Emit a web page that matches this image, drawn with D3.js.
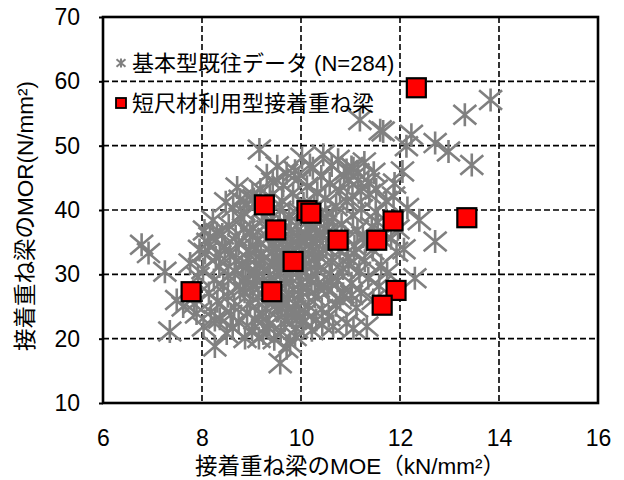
<!DOCTYPE html>
<html>
<head>
<meta charset="utf-8">
<script src="https://cdn.jsdelivr.net/npm/d3@7"></script>
<style>
  html, body { margin: 0; padding: 0; background: #fff; }
  svg { display: block; }
  text { font-family: "Liberation Sans", Arial, "Noto Sans CJK JP", sans-serif; fill: #000; }
</style>
</head>
<body>
<svg id="chart" width="624" height="480"></svg>
<script>
// MOE (kN/mm²) and MOR (N/mm²) for the existing basic-type beams
const baseBeams = [
  [6.78,34.6],[6.92,33.3],[7.25,30.4],[7.49,26.0],[7.62,25.0],[7.35,21.1],[7.89,23.9],[7.76,31.7],
  [8.16,35.8],[8.30,36.4],[8.06,33.3],[8.36,33.0],[8.77,41.6],[8.90,41.0],[9.31,45.4],[9.71,45.7],
  [8.26,22.9],[8.03,21.9],[9.16,49.4],[8.26,18.8],[8.50,20.8],[8.87,20.1],[9.24,20.8],[9.58,16.2],
  [9.71,18.5],[9.78,19.3],[10.65,21.9],[10.92,22.4],[11.06,21.6],[11.33,21.9],[10.85,27.0],[11.02,26.8],
  [11.46,26.0],[10.05,22.6],[13.83,57.1],[13.31,54.8],[11.19,54.0],[11.60,52.4],[11.66,52.2],[12.23,51.7],
  [12.13,49.9],[12.71,50.4],[12.98,49.1],[13.45,47.0],[12.05,46.0],[11.02,46.7],[11.87,42.1],[12.39,38.4],
  [12.71,35.1],[11.93,33.5],[12.30,29.4],[10.18,47.0],[11.06,46.5],
  [9.52,46.8],[9.88,46.1],[10.24,46.5],[10.41,45.2],[10.62,46.9],[9.43,44.3],[9.95,44.9],[10.12,43.6],
  [10.58,44.1],[10.87,45.3],[11.15,44.6],[9.18,43.2],[9.64,43.8],[10.33,42.7],[10.79,43.0],[11.04,42.2],
  [8.71,43.5],[9.02,42.4],
  [8.48,41.2],[8.63,40.3],[9.05,41.7],[9.37,42.1],[9.62,41.4],[9.84,42.6],[10.05,41.0],[10.27,40.4],
  [10.49,41.8],[10.71,40.6],[10.93,41.3],[11.22,40.1],[11.38,42.5],[8.85,39.6],[9.21,40.2],[9.57,39.9],
  [10.38,39.3],[10.64,38.8],[11.05,39.2],[11.51,39.7],[11.72,41.4],
  [8.22,38.4],[8.54,37.6],[8.79,38.7],[9.03,37.2],[9.28,38.9],[9.66,38.1],[9.91,37.5],[10.15,38.3],
  [10.47,37.1],[10.82,37.8],[11.14,36.9],[11.43,37.4],[8.05,36.8],[8.41,36.2],[8.68,35.9],[8.97,36.6],
  [9.35,35.7],[9.59,36.4],[9.83,35.4],[10.09,36.1],[10.31,35.5],[10.56,36.7],[10.89,35.8],[11.25,35.9],
  [11.68,36.3],
  [8.12,34.9],[8.46,34.3],[8.74,34.8],[9.09,34.1],[9.44,34.6],[9.72,33.9],[9.97,34.5],[10.24,33.7],
  [10.51,34.2],[10.78,33.6],[11.08,34.4],[11.45,33.8],[7.95,33.8],[8.28,32.6],[8.57,33.2],[8.92,32.5],
  [9.19,33.1],[9.51,32.4],[9.77,33.3],[10.04,32.2],[10.36,32.8],[10.62,31.9],[10.95,32.7],[11.29,32.1],
  [11.62,31.4],
  [8.02,30.8],[8.35,31.2],[8.66,30.5],[8.94,31.4],[9.26,30.7],[9.55,31.1],[9.81,30.3],[10.09,31.3],
  [10.33,30.6],[10.58,30.1],[10.85,30.9],[11.18,30.4],[7.92,29.6],[8.24,29.1],[8.53,29.8],[8.83,28.9],
  [9.11,29.5],[9.39,28.6],[9.68,29.3],[9.95,28.4],[10.21,29.2],[10.47,28.3],[10.74,29.0],[11.02,28.6],
  [11.36,29.4],[8.43,28.2],[8.77,27.6],[9.03,28.1],[9.58,27.9],
  [8.14,27.1],[8.52,26.6],[8.86,27.3],[9.14,26.4],[9.47,26.9],[9.75,26.2],[10.02,27.2],[10.28,26.5],
  [10.55,27.4],[10.79,26.1],[11.21,27.1],[7.84,25.4],[8.31,25.8],[8.65,24.9],[8.97,25.6],[9.29,24.7],
  [9.61,25.3],[9.88,24.5],[10.15,25.1],[10.42,24.6],[10.71,25.2],[11.12,24.8],[8.18,24.2],[8.58,23.7],
  [8.91,24.0],[9.22,23.5],[9.53,24.3],[9.82,23.3],
  [8.36,23.1],[8.74,22.6],[9.07,23.0],[9.36,22.2],[9.67,22.8],[9.98,23.4],[10.31,22.9],[10.56,23.5],
  [8.62,21.7],[9.01,21.4],[9.31,21.9],[9.59,21.2],[9.91,21.6],[10.22,21.3],[10.43,22.2],[9.15,20.1],
  [9.46,19.9],[9.88,20.4],
  [9.12,35.2],[9.33,36.9],[9.49,34.0],[9.64,35.1],[9.79,36.8],[9.94,35.6],[10.07,34.9],[10.19,37.2],
  [9.24,32.2],[9.41,33.5],[9.58,30.2],[9.73,31.8],[9.86,32.7],[10.01,30.9],[10.16,33.1],[10.29,31.6],
  [9.07,30.1],[9.22,28.3],[9.37,29.9],[9.52,27.3],[9.69,28.7],[9.84,27.6],[9.99,29.8],[10.13,28.0],
  [8.95,33.7],[8.81,31.3],[8.69,32.1],[8.88,29.4],[9.16,31.7],[9.46,31.5],[9.63,33.6],[9.91,31.2],
  [10.11,35.8],[10.23,34.3],[10.39,36.3],[10.44,33.9],[9.02,35.9],[8.84,37.1],[9.29,37.7],[9.54,37.4],
  [9.76,39.2],[9.99,39.6],[10.21,39.9],[10.52,38.9],
  [9.32,26.1],[9.57,25.7],[9.72,24.1],[9.95,26.0],[10.08,24.0],[10.35,27.9],[10.62,28.8],[10.96,31.4],
  [11.07,33.2],[11.31,35.1],[11.55,38.1],[11.82,35.6],[11.96,37.0],[12.08,33.9],[11.74,30.2],[11.58,28.2],
  [12.15,40.3],[11.89,44.1],[11.47,45.8],[11.28,47.4],[10.75,47.8],[10.02,48.1],[10.45,48.6],
  [10.92,46.2],[11.15,45.7],[11.36,44.3],[11.52,43.2],[11.21,42.9],[10.96,44.7]
];

// MOE / MOR of the glued laminated beams built from short lumber
const shortBeams = [
  [7.78,27.3],[9.26,40.8],[9.49,36.9],[9.41,27.3],[9.84,32.0],[10.12,39.9],[10.20,39.5],
  [10.75,35.3],[11.53,35.3],[11.86,38.3],[11.92,27.5],[11.64,25.2],[12.33,59.0],[13.35,38.8]
];

const xTicks = [6, 8, 10, 12, 14, 16];
const yTicks = [10, 20, 30, 40, 50, 60, 70];
const legendLabels = ["基本型既往データ (N=284)", "短尺材利用型接着重ね梁"];
const xTitle = "接着重ね梁のMOE（kN/mm²）";
const yTitle = "接着重ね梁のMOR(N/mm²)";

const svg = d3.select("#chart");
const L = 103, R = 598, T = 17, B = 403;
const x = d3.scaleLinear().domain([6, 16]).range([L, R]);
const y = d3.scaleLinear().domain([10, 70]).range([B, T]);

// dashed grid
const grid = svg.append("g").attr("stroke", "#000").attr("stroke-width", 1.6)
  .attr("stroke-dasharray", "6,3").attr("fill", "none");
grid.selectAll("line.h").data(yTicks.slice(1, -1)).join("line")
  .attr("x1", L).attr("x2", R).attr("y1", d => y(d)).attr("y2", d => y(d));
grid.selectAll("line.v").data(xTicks.slice(1, -1)).join("line")
  .attr("y1", T).attr("y2", B).attr("x1", d => x(d)).attr("x2", d => x(d));

// axes
const xAxis = svg.append("g").attr("transform", `translate(0,${B})`)
  .call(d3.axisBottom(x).tickValues(xTicks).tickSize(0).tickPadding(27));
const yAxis = svg.append("g").attr("transform", `translate(${L},0)`)
  .call(d3.axisLeft(y).tickValues(yTicks).tickSizeInner(4).tickSizeOuter(0).tickPadding(19));
[xAxis, yAxis].forEach(a => {
  a.select(".domain").remove();
  a.selectAll("text").attr("font-size", 23)
    .attr("font-family", "'Liberation Sans', Arial, sans-serif").attr("fill", "#000");
  a.selectAll("line").attr("stroke", "#000").attr("stroke-width", 2);
});

// plot frame
svg.append("rect").attr("x", L).attr("y", T).attr("width", R - L).attr("height", B - T)
  .attr("fill", "none").attr("stroke", "#000").attr("stroke-width", 2.6);

// asterisk marker path
function star(s) {
  const h = s, w = s, d = s * 0.85;
  return `M0,${-h}L0,${h}M${-w},${-d}L${w},${d}M${-w},${d}L${w},${-d}`;
}

svg.append("g").selectAll("path").data(baseBeams).join("path")
  .attr("transform", d => `translate(${x(d[0])},${y(d[1])})`)
  .attr("d", star(11.5))
  .attr("fill", "none").attr("stroke", "#808080").attr("stroke-width", 2.6);

const sq = 19;
svg.append("g").selectAll("rect").data(shortBeams).join("rect")
  .attr("x", d => x(d[0]) - sq / 2).attr("y", d => y(d[1]) - sq / 2)
  .attr("width", sq).attr("height", sq)
  .attr("fill", "#ff0000").attr("stroke", "#000").attr("stroke-width", 2.2);

// legend
const lg = svg.append("g");
lg.append("path").attr("transform", "translate(121,63)").attr("d", star(4.5))
  .attr("fill", "none").attr("stroke", "#808080").attr("stroke-width", 2);
lg.append("rect").attr("x", 116).attr("y", 98).attr("width", 10).attr("height", 10)
  .attr("fill", "#ff0000").attr("stroke", "#000").attr("stroke-width", 1.8);
lg.selectAll("text").data(legendLabels).join("text")
  .attr("x", 132).attr("y", (d, i) => 63 + i * 40)
  .attr("dominant-baseline", "central")
  .attr("font-size", 22).text(d => d);

// axis titles
svg.append("text").attr("x", 350).attr("y", 466).attr("text-anchor", "middle")
  .attr("dominant-baseline", "central").attr("font-size", 22.5).text(xTitle);
svg.append("text").attr("transform", "translate(25,216) rotate(-90)")
  .attr("text-anchor", "middle").attr("dominant-baseline", "central")
  .attr("font-size", 22.5).text(yTitle);
</script>
</body>
</html>
